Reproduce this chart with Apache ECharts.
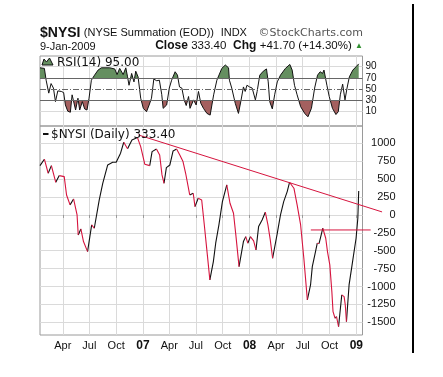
<!DOCTYPE html>
<html><head><meta charset="utf-8">
<script src="https://cdn.jsdelivr.net/npm/echarts@6/dist/echarts.min.js"></script>
<style>html,body{margin:0;padding:0;background:#fff}#c{width:443px;height:377px}</style>
</head><body><div id="c"></div><script>
// ---- data ----
const nysiDates = ['2006-01-13','2006-01-28','2006-02-10','2006-02-21','2006-03-08','2006-03-20','2006-04-06','2006-04-14','2006-04-26','2006-05-08','2006-05-20','2006-05-24','2006-06-02','2006-06-11','2006-06-25','2006-07-09','2006-07-18','2006-08-04','2006-08-16','2006-09-02','2006-09-19','2006-10-01','2006-10-16','2006-10-27','2006-11-09','2006-11-24','2006-12-13','2006-12-24','2007-01-07','2007-01-24','2007-02-01','2007-02-16','2007-02-27','2007-03-07','2007-03-14','2007-03-22','2007-04-03','2007-04-14','2007-04-26','2007-05-07','2007-05-18','2007-05-27','2007-06-10','2007-06-22','2007-06-28','2007-07-09','2007-07-21','2007-07-30','2007-08-10','2007-08-18','2007-08-30','2007-09-07','2007-09-18','2007-09-30','2007-10-15','2007-10-26','2007-11-07','2007-11-15','2007-11-26','2007-12-11','2007-12-19','2007-12-26','2008-01-04','2008-01-15','2008-01-23','2008-02-01','2008-02-13','2008-02-24','2008-03-04','2008-03-12','2008-03-20','2008-04-04','2008-04-16','2008-04-27','2008-05-09','2008-05-17','2008-06-01','2008-06-12','2008-06-24','2008-07-05','2008-07-17','2008-07-28','2008-08-03','2008-08-14','2008-08-20','2008-08-26','2008-09-01','2008-09-08','2008-09-18','2008-09-24','2008-10-02','2008-10-09','2008-10-13','2008-10-20','2008-10-25','2008-11-01','2008-11-05','2008-11-12','2008-11-20','2008-11-24','2008-11-28','2008-12-07','2008-12-19','2008-12-31','2009-01-06','2009-01-09'];
const nysiValues = [689,778,582,689,456,549,535,279,140,223,0,-279,-196,-372,-512,-140,-186,209,442,698,736,736,862,1015,925,1047,1080,954,708,689,884,922,838,559,442,661,698,894,922,838,745,582,279,303,116,233,209,-140,-582,-908,-652,-395,-140,186,419,163,24,-279,-722,-372,-303,-395,-303,-363,-489,-163,-70,38,-140,-349,-605,-279,0,186,326,456,373,140,-140,-605,-1187,-978,-722,-512,-395,-400,-303,-186,-326,-512,-698,-1071,-1350,-1443,-1420,-1560,-1397,-1117,-1141,-1257,-1490,-978,-652,-326,-47,333.4];

const rsiDates = ['2006-01-13','2006-01-28','2006-02-03','2006-02-12','2006-02-20','2006-02-28','2006-03-07','2006-03-15','2006-03-27','2006-04-04','2006-04-10','2006-04-18','2006-04-27','2006-05-03','2006-05-09','2006-05-15','2006-05-23','2006-05-29','2006-06-07','2006-06-15','2006-06-23','2006-06-30','2006-07-08','2006-07-19','2006-07-31','2006-08-11','2006-09-09','2006-09-26','2006-10-04','2006-10-13','2006-10-25','2006-11-03','2006-11-09','2006-11-14','2006-11-23','2006-12-01','2006-12-07','2006-12-15','2006-12-24','2007-01-02','2007-01-13','2007-01-22','2007-01-30','2007-02-07','2007-02-17','2007-02-26','2007-03-06','2007-03-11','2007-03-23','2007-04-01','2007-04-09','2007-04-21','2007-04-29','2007-05-06','2007-05-14','2007-05-22','2007-05-29','2007-06-06','2007-06-11','2007-06-23','2007-07-02','2007-07-10','2007-07-18','2007-07-27','2007-08-08','2007-08-19','2007-08-31','2007-09-11','2007-09-28','2007-10-10','2007-10-21','2007-10-24','2007-11-01','2007-11-13','2007-11-24','2007-12-02','2007-12-11','2007-12-17','2007-12-23','2008-01-01','2008-01-10','2008-01-15','2008-01-21','2008-01-27','2008-02-05','2008-02-17','2008-02-28','2008-03-05','2008-03-10','2008-03-19','2008-03-27','2008-04-05','2008-04-16','2008-05-03','2008-05-18','2008-05-26','2008-06-03','2008-06-12','2008-06-24','2008-07-08','2008-07-19','2008-07-31','2008-08-11','2008-08-21','2008-08-30','2008-09-07','2008-09-12','2008-09-22','2008-09-30','2008-10-11','2008-10-23','2008-10-31','2008-11-07','2008-11-15','2008-11-23','2008-11-30','2008-12-08','2008-12-20','2008-12-31','2009-01-09'];
const rsiValues = [88,87,66,43,60,52,28,47,46,44,22,11,9,40,37,13,34,13,28,15,13,34,66,75,84,88,88,86,76,87,76,88,72,57,78,63,82,72,34,16,10,22,34,68,65,66,41,16,22,52,66,81,75,54,52,31,21,37,16,31,22,46,25,16,7,4,40,66,87,93,88,66,52,25,7,28,54,46,57,54,52,49,31,46,75,82,86,63,28,15,40,63,75,87,94,84,57,40,19,7,1,16,52,75,81,78,84,57,37,16,5,10,40,59,31,52,72,84,90,95];

// trend lines drawn on the chart (end points)
const trendDates = ['2006-12-16','2009-03-30'];
const trendValues = [1117, 42];
const levelDates = ['2008-07-29','2009-02-19'];
const levelValues = [-210, -210];

// axes
const xStart = '2006-01-13', xEnd = '2009-01-22';
const tickDates = ['2006-04-01','2006-07-01','2006-10-01','2007-01-01','2007-04-01','2007-07-01','2007-10-01','2008-01-01','2008-04-01','2008-07-01','2008-10-01','2009-01-01'];
const tickLabels = ['Apr','Jul','Oct','07','Apr','Jul','Oct','08','Apr','Jul','Oct','09'];
const nysiTicks = [1000,750,500,250,0,-250,-500,-750,-1000,-1250,-1500];
const nysiMin = -1677, nysiMax = 1242;
const rsiTicks = [90,70,50,30,10];
const rsiLevels = [70,50,30];

// ---- build ----
const toTs = s => { const p = s.split('-').map(Number); return Date.UTC(p[0], p[1]-1, p[2]); };
const nT = nysiDates.map(toTs);
const tickTs = tickDates.map(toTs);
const labelOf = {}; tickTs.forEach((t,i)=>{ labelOf[t] = tickLabels[i]; });
const x0 = toTs(xStart), x1 = toTs(xEnd);

function runs(isUp){
  const out=[]; let inRun=false;
  for(let i=0;i<nT.length-1;i++){
    const up = nysiValues[i+1] >= nysiValues[i];
    if(up===isUp){
      if(!inRun){ out.push([nT[i], nysiValues[i]]); inRun=true; }
      out.push([nT[i+1], nysiValues[i+1]]);
    } else if(inRun){ out.push([nT[i], '-']); inRun=false; }
  }
  return out;
}
const rsiData = rsiDates.map((d,i)=>[toTs(d), rsiValues[i]]);

const RED = '#d6143e', GRID = '#dadada', BORDER = '#9a9a9a';
const FF = '"Liberation Sans", Arial, sans-serif';
const FV = '"DejaVu Sans", Verdana, sans-serif';
const PLOT_W = 322.5, WIDE_W = 350;

const xCommon = {
  type:'value', min:x0, max:x1,
  axisLine:{show:false},
  splitLine:{show:true, lineStyle:{color:GRID, width:1}}
};

const chart = echarts.init(document.getElementById('c'), null, {renderer:'canvas'});
chart.setOption({
  animation:false,
  backgroundColor:'#fff',
  grid:[
    {left:40, top:56, width:PLOT_W, height:70, show:true, borderColor:BORDER, borderWidth:1, backgroundColor:'transparent'},
    {left:40, top:126, width:PLOT_W, height:209, show:true, borderColor:BORDER, borderWidth:1, backgroundColor:'transparent'},
    // same scale as the price panel, wider so the drawn trend lines can run past the right edge
    {left:40, top:126, width:WIDE_W, height:209, show:false}
  ],
  xAxis:[
    Object.assign({}, xCommon, {gridIndex:0, axisLabel:{show:false, customValues:tickTs}, axisTick:{show:false, customValues:tickTs}}),
    Object.assign({}, xCommon, {gridIndex:1,
      axisTick:{show:true, length:3, lineStyle:{color:BORDER}, customValues:tickTs},
      axisLabel:{show:true, customValues:tickTs, margin:5, fontSize:11, color:'#111', fontFamily:FF,
        formatter:(v)=>{ const l = labelOf[v] || ''; return /^\d+$/.test(l) ? '{y|'+l+'}' : l; },
        rich:{y:{fontWeight:'bold', fontSize:12, fontFamily:FF, color:'#111'}}}
    }),
    {type:'value', gridIndex:2, show:false, min:x0, max:x0 + (x1-x0)*WIDE_W/PLOT_W, splitLine:{show:false}}
  ],
  yAxis:[
    {type:'value', gridIndex:0, position:'right', min:-15.4, max:109,
      axisLine:{show:false}, axisTick:{show:false, customValues:[10,90]},
      splitLine:{show:true, lineStyle:{color:GRID}},
      axisLabel:{show:true, customValues:rsiTicks, align:'left', margin:3, fontSize:10, color:'#111', fontFamily:FF, formatter:v=>String(v)}},
    {type:'value', gridIndex:1, position:'right', min:nysiMin, max:nysiMax,
      axisLine:{show:false}, axisTick:{show:false, customValues:nysiTicks},
      splitLine:{show:true, lineStyle:{color:GRID}},
      axisLabel:{show:true, customValues:nysiTicks, align:'right', margin:33, fontSize:11, color:'#111', fontFamily:FF, formatter:v=>String(v)}},
    {type:'value', gridIndex:2, show:false, min:nysiMin, max:nysiMax, splitLine:{show:false}}
  ],
  visualMap:[{
    type:'piecewise', show:false, seriesIndex:0, dimension:1,
    pieces:[{gt:70, color:'#658f60'},{gte:30, lte:70, color:'rgba(255,255,255,0)'},{lt:30, color:'#a4605f'}]
  }],
  series:[
    {type:'line', xAxisIndex:0, yAxisIndex:0, data:rsiData, symbol:'none', silent:true,
      lineStyle:{width:0, opacity:0}, areaStyle:{origin:50, opacity:1}, z:2},
    {type:'line', xAxisIndex:0, yAxisIndex:0, data:rsiData, symbol:'none', silent:true,
      lineStyle:{width:1, color:'#111'}, itemStyle:{color:'#111'}, z:4,
      markLine:{silent:true, symbol:['none','none'], label:{show:false}, animation:false,
        data: rsiLevels.map(l=>({yAxis:l, lineStyle:{color:'#666', width:1, type: l===50 ? [6,2,1,2] : 'solid'}}))}},
    {type:'line', xAxisIndex:1, yAxisIndex:1, data:runs(true), symbol:'none', silent:true,
      lineStyle:{width:1.1, color:'#111'}, itemStyle:{color:'#111'}, z:3},
    {type:'line', xAxisIndex:1, yAxisIndex:1, data:runs(false), symbol:'none', silent:true,
      lineStyle:{width:1.1, color:RED}, itemStyle:{color:RED}, z:3},
    {type:'line', xAxisIndex:2, yAxisIndex:2, clip:false, symbol:'none', silent:true,
      data: trendDates.map((d,i)=>[toTs(d), trendValues[i]]), lineStyle:{width:1, color:RED}, z:5},
    {type:'line', xAxisIndex:2, yAxisIndex:2, clip:false, symbol:'none', silent:true,
      data: levelDates.map((d,i)=>[toTs(d), levelValues[i]]), lineStyle:{width:1, color:RED}, z:5}
  ],
  graphic:[
    {type:'text', left:40, top:26, style:{text:'{b|$NYSI} {n|(NYSE Summation (EOD))}  {n|INDX}', rich:{
      b:{font:'bold 14px '+FF, fill:'#111'}, n:{font:'11px '+FF, fill:'#111'}}}},
    {type:'text', right:443-363, top:28, style:{text:'©StockCharts.com', font:'11px '+FV, fill:'#555', align:'right'}},
    {type:'text', left:40, top:41, style:{text:'9-Jan-2009', font:'11px '+FF, fill:'#111'}},
    {type:'text', right:443-363, top:40, style:{text:'{b|Close} {n|333.40}  {b|Chg} {n|+41.70 (+14.30%)} {g|▲}', rich:{
      b:{font:'bold 12px '+FF, fill:'#111'}, n:{font:'11.5px '+FF, fill:'#111'}, g:{font:'8px '+FF, fill:'#2f8f2f'}}}},
    {type:'polygon', shape:{points:[[42,65],[44,59],[46.5,62],[49.5,58],[53,65]]}, style:{fill:'#658f60', stroke:'#111', lineWidth:1}, z:10},
    {type:'text', left:57, top:56.5, style:{text:'RSI(14) 95.00', font:'12px '+FV, fill:'#111'}, z:10},
    {type:'rect', shape:{x:43, y:133, width:5.5, height:2}, style:{fill:'#111'}, z:10},
    {type:'text', left:51, top:128.5, style:{text:'$NYSI (Daily) 333.40', font:'12px '+FV, fill:'#111'}, z:10},
    {type:'rect', shape:{x:412, y:4, width:2, height:349}, style:{fill:'#000'}, z:10}
  ]
});
</script></body></html>
